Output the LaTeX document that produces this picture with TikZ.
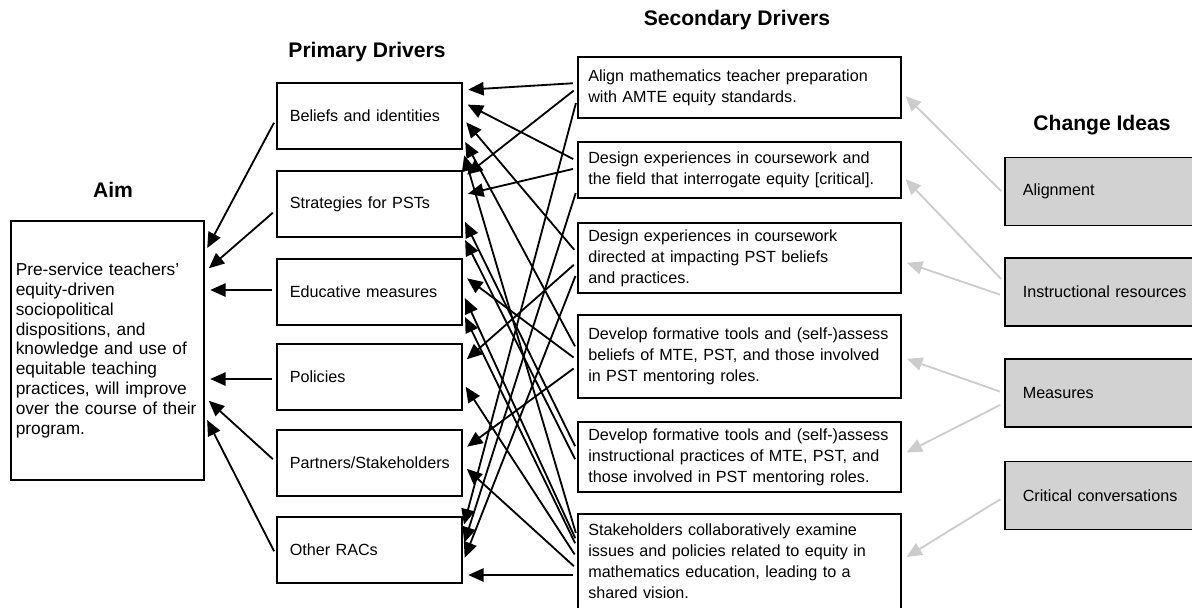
\documentclass[tikz,border=0pt]{standalone}
\usepackage{fontspec}
\setmainfont{Liberation Sans}
\usetikzlibrary{arrows.meta}
\begin{document}
\begin{tikzpicture}[x=0.025cm,y=-0.025cm,
    box/.style={draw,line width=1.1pt,align=left,inner xsep=0.325cm,anchor=west,font=\fontsize{11.5}{14.9}\selectfont},
    pbox/.style={box,text width=3.975cm,minimum height=1.65cm},
    sbox/.style={box,text width=7.55cm,inner xsep=0.2625cm},
    cbox/.style={box,fill=gray!35,text width=4.35cm,minimum height=1.7cm,inner xsep=0.45cm},
    head/.style={font=\fontsize{15}{18}\selectfont\bfseries},
    arr/.style={-{Triangle[length=11pt,width=9.5pt]},line width=1.3pt,shorten <=3pt,shorten >=4pt},
    garr/.style={arr,draw=gray!40}]
    \useasboundingbox (0,0) rectangle (1192,607);
    \node[head] (aimh) at (113,190) {Aim};
    \node[head] (ph) at (367,52) {Primary Drivers};
    \node[head] (sh) at (737,20) {Secondary Drivers};
    \node[head] (ch) at (1102,125) {Change Ideas};
    \node[box,text width=4.575cm,inner xsep=0.125cm,minimum height=6.475cm,font=\fontsize{12.3}{14.1}\selectfont] (aim) at (10,350.5) {Pre-service teachers'\\equity-driven\\sociopolitical\\dispositions, and\\knowledge and use of\\equitable teaching\\practices, will improve\\over the course of their\\program.};
    \node[pbox] (p1) at (276,116) {Beliefs and identities};
    \node[pbox] (p2) at (276,204) {Strategies for PSTs};
    \node[pbox] (p3) at (276,292) {Educative measures};
    \node[pbox] (p4) at (276,377) {Policies};
    \node[pbox] (p5) at (276,463) {Partners/Stakeholders};
    \node[pbox] (p6) at (276,550) {Other RACs};
    \node[sbox,minimum height=1.525cm] (s1) at (577,87.5) {Align mathematics teacher preparation\\with AMTE equity standards.};
    \node[sbox,minimum height=1.4cm] (s2) at (577,170) {Design experiences in coursework and\\the field that interrogate equity [critical].};
    \node[sbox,minimum height=1.75cm] (s3) at (577,258) {Design experiences in coursework\\directed at impacting PST beliefs\\and practices.};
    \node[sbox,minimum height=2.075cm] (s4) at (577,356.5) {Develop formative tools and \mbox{(self-)assess}\\beliefs of MTE, PST, and those involved\\in PST mentoring roles.};
    \node[sbox,minimum height=1.75cm] (s5) at (577,457) {Develop formative tools and \mbox{(self-)assess}\\instructional practices of MTE, PST, and\\those involved in PST mentoring roles.};
    \node[sbox,anchor=north west,inner ysep=0.25cm] (s6) at (577,513) {Stakeholders collaboratively examine\\issues and policies related to equity in\\mathematics education, leading to a\\shared vision.\rule[-12pt]{0pt}{12pt}};
    \node[cbox] (c1) at (1004,191.5) {Alignment};
    \node[cbox] (c2) at (1004,292) {Instructional resources};
    \node[cbox] (c3) at (1004,393) {Measures};
    \node[cbox] (c4) at (1004,495.5) {Critical conversations};
    \draw[arr] (p1.west |- 0,119) -- (aim.east |- 0,253);
    \draw[arr] (p2.west |- 0,210) -- (aim.east |- 0,272);
    \draw[arr] (p3.west |- 0,290) -- (aim.east |- 0,290);
    \draw[arr] (p4.west |- 0,379) -- (aim.east |- 0,379);
    \draw[arr] (p5.west |- 0,462) -- (aim.east |- 0,397);
    \draw[arr] (p6.west |- 0,555) -- (aim.east |- 0,415);
    \draw[arr] (s1.west |- 0,83) -- (p1.east |- 0,90);
    \draw[arr] (s1.west |- 0,88) -- (p2.east |- 0,178);
    \draw[arr] (s1.west |- 0,99) -- (p6.east |- 0,530);
    \draw[arr] (s2.west |- 0,161) -- (p1.east |- 0,102);
    \draw[arr] (s2.west |- 0,168) -- (p2.east |- 0,195);
    \draw[arr] (s2.west |- 0,189) -- (p6.east |- 0,548);
    \draw[arr] (s3.west |- 0,253) -- (p1.east |- 0,118);
    \draw[arr] (s3.west |- 0,262) -- (p4.east |- 0,363);
    \draw[arr] (s3.west |- 0,272) -- (p6.east |- 0,563);
    \draw[arr] (s4.west |- 0,350) -- (p1.east |- 0,137);
    \draw[arr] (s4.west |- 0,360) -- (p3.east |- 0,275);
    \draw[arr] (s4.west |- 0,366) -- (p5.east |- 0,450);
    \draw[arr] (s5.west |- 0,450) -- (p2.east |- 0,217);
    \draw[arr] (s5.west |- 0,463) -- (p2.east |- 0,235);
    \draw[arr] (s6.west |- 0,537) -- (p1.east |- 0,150);
    \draw[arr] (s6.west |- 0,542) -- (p3.east |- 0,293);
    \draw[arr] (s6.west |- 0,547) -- (p3.east |- 0,312);
    \draw[arr] (s6.west |- 0,558) -- (p4.east |- 0,382);
    \draw[arr] (s6.west |- 0,569) -- (p5.east |- 0,465);
    \draw[arr] (s6.west |- 0,575) -- (p6.east |- 0,575);
    \draw[garr] (c1.west |- 0,194) -- (s1.east |- 0,92);
    \draw[garr] (c2.west |- 0,282) -- (s2.east |- 0,175);
    \draw[garr] (c2.west |- 0,296) -- (s3.east |- 0,261);
    \draw[garr] (c3.west |- 0,393) -- (s4.east |- 0,357);
    \draw[garr] (c3.west |- 0,403) -- (s5.east |- 0,455);
    \draw[garr] (c4.west |- 0,497) -- (s6.east |- 0,560);
\end{tikzpicture}
\end{document}
